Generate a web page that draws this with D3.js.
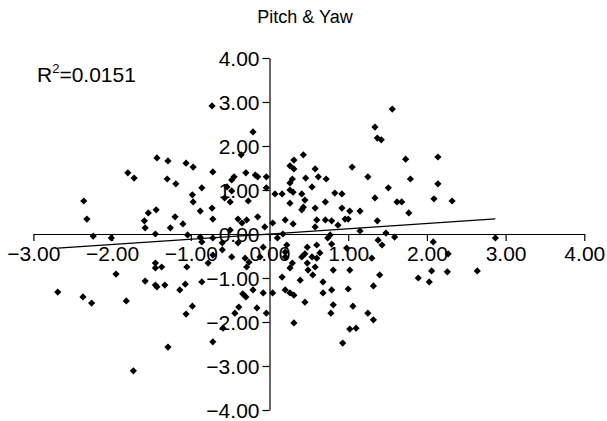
<!DOCTYPE html>
<html>
<head>
<meta charset="utf-8">
<script src="https://cdn.jsdelivr.net/npm/d3@7"></script>
<style>
  body { margin: 0; background: #fff; }
  text { font-family: Arial, "Liberation Sans", sans-serif; fill: #000; }
</style>
</head>
<body>
<svg></svg>
<script>
const WIDTH = 607
const HEIGHT = 421

// Pitch (x) and yaw (y) pairs
const pitch = [
  -1.43, -1.80, -1.72, -0.73, -0.21, -0.36, -1.29, -1.06, -0.97, -0.72,
  -0.30, -0.18, -0.15, -0.04, -0.45, -0.48, -1.30, -1.19, -0.86, -0.54,
  -0.48, -0.04, 0.07, -0.98, 1.56, 1.34, 1.37, 1.42, 0.43, 0.31,
  0.26, 0.31, 0.58, 1.05, 1.25, 1.51, 0.29, 0.26, 0.46, 0.62,
  0.72, 0.54, 0.26, 0.30, 0.41, 0.83, 0.92, 0.16, 1.73, 2.14,
  1.79, 2.14, -2.36, -2.32, -2.24, -2.01, -1.95, -1.54, -1.44, -1.59,
  -1.58, -1.45, -1.45, -1.45, -1.58, -1.45, -1.43, -0.97, -0.57, -0.50,
  -0.27, -0.88, -0.73, -1.20, -1.10, -0.72, -0.40, -0.35, -0.29, -0.15,
  -0.06, -1.26, -0.50, -1.04, -0.88, -0.86, -0.72, -0.60, -0.40, -0.72,
  -0.60, -0.48, -0.31, -0.26, -0.08, -0.12, -1.37, -1.05, -0.78, -0.29,
  0.10, 0.04, -1.33, -1.07, -0.86, 0.26, 0.45, 0.43, 0.41, 0.58,
  0.71, 0.92, 1.02, 1.15, 1.34, 1.62, 1.37, 0.20, 0.30, 0.60,
  0.71, 0.79, 0.96, 1.00, 0.58, 0.87, 1.15, 0.17, 0.77, 0.74,
  1.48, 1.59, 1.38, 1.43, 0.79, 0.98, 0.22, 0.20, 0.48, 0.60,
  0.45, 0.41, 0.54, 0.64, 0.60, 0.20, 0.29, 0.26, 0.48, 0.58,
  0.49, 0.81, 1.02, 1.30, 1.40, 0.16, 0.39, 0.55, 0.68, 1.32,
  1.00, 1.68, 2.09, 2.32, 1.77, 2.08, 2.87, 2.27, 2.06, 2.26,
  1.89, 2.03, 2.64, -2.69, -2.37, -2.26, -1.82, -1.73, -1.14, -1.06,
  -0.98, -1.29, -0.72, -0.59, -0.44, -0.39, -0.34, -0.30, -0.21, -0.16,
  -0.08, -0.04, 0.04, 0.20, 0.26, 0.31, 0.45, 0.68, 0.79, 0.81,
  0.78, 1.06, 0.31, 1.25, 1.32, 1.02, 1.10, 0.93
]
const yaw = [
  1.73, 1.39, 1.27, 2.91, 2.32, 1.80, 1.66, 1.61, 1.52, 1.41,
  1.39, 1.34, 1.30, 1.30, 1.30, 1.23, 1.25, 1.14, 1.05, 1.07,
  0.98, 1.05, 0.91, 0.89, 2.84, 2.43, 2.18, 2.14, 1.80, 1.68,
  1.55, 1.48, 1.48, 1.52, 1.30, 1.05, 1.25, 1.16, 1.27, 1.30,
  1.25, 1.07, 1.00, 0.95, 0.91, 0.93, 0.91, 0.91, 1.70, 1.75,
  1.25, 1.14, 0.75, 0.34, -0.05, -0.09, -0.91, 0.48, 0.55, 0.30,
  0.14, 0.00, -0.66, -0.77, -1.07, -1.16, -1.20, 0.73, 0.82, 0.73,
  0.75, 0.52, 0.59, 0.39, 0.23, 0.34, 0.34, 0.25, 0.32, 0.39,
  0.16, 0.14, 0.09, -0.02, -0.07, -0.18, -0.09, -0.20, -0.20, -0.48,
  -0.36, -0.52, -0.55, -0.64, -0.30, -0.52, -0.75, -0.75, -0.66, -0.75,
  -0.09, 0.25, -1.16, -1.14, -1.09, 0.70, 0.77, 0.61, 0.55, 0.59,
  0.73, 0.59, 0.52, 0.52, 0.82, 0.73, 0.30, 0.32, 0.23, 0.32,
  0.32, 0.30, 0.34, 0.34, 0.16, 0.20, 0.07, 0.00, -0.02, -0.09,
  0.02, -0.07, -0.14, -0.25, -0.23, -0.32, -0.25, -0.41, -0.30, -0.25,
  -0.45, -0.52, -0.52, -0.43, -0.55, -0.52, -0.66, -0.77, -0.66, -0.75,
  -0.82, -0.82, -0.82, -0.55, -0.93, -0.98, -1.05, -0.93, -1.09, -1.18,
  -1.25, 0.73, 0.80, 0.75, 0.48, -0.18, -0.09, -0.45, -0.84, -0.86,
  -1.00, -1.09, -0.84, -1.32, -1.43, -1.57, -1.52, -3.11, -1.27, -1.82,
  -1.64, -2.57, -2.45, -2.14, -1.80, -1.66, -1.36, -1.43, -1.27, -1.68,
  -1.34, -1.80, -1.34, -1.27, -1.34, -1.39, -1.55, -1.34, -1.27, -1.61,
  -1.80, -1.64, -2.02, -1.80, -1.95, -2.16, -2.14, -2.48
]

const xTicks = [-3, -2, -1, 0, 1, 2, 3, 4]
const yTicks = [-4, -3, -2, -1, 0, 1, 2, 3, 4]

// linear trend as shown on the chart
const trendSlope = 0.119
const trendIntercept = 0.0
const rSquared = '0.0151'

const points = pitch.map((p, i) => ({ x: p, y: yaw[i] }))

const svg = d3.select('svg')
  .attr('width', WIDTH)
  .attr('height', HEIGHT)

const xScale = d3.scaleLinear().domain([-3, 4]).range([33.4, 584.3])
const yScale = d3.scaleLinear().domain([-4, 4]).range([410, 58])

svg.append('text')
  .attr('x', 305)
  .attr('y', 23)
  .attr('text-anchor', 'middle')
  .style('font-size', '18px')
  .text('Pitch & Yaw')

const r2 = svg.append('text')
  .attr('x', 37)
  .attr('y', 82)
  .style('font-size', '21px')
r2.append('tspan').text('R')
r2.append('tspan').attr('dy', -9).style('font-size', '13px').text('2')
r2.append('tspan').attr('dy', 9).text('=' + rSquared)

const fmt = d3.format('.2f')

const axisX = d3.axisBottom(xScale)
  .tickValues(xTicks)
  .tickFormat(fmt)
  .tickSize(7)
  .tickSizeOuter(0)

const axisY = d3.axisLeft(yScale)
  .tickValues(yTicks)
  .tickFormat(fmt)
  .tickSize(7)
  .tickSizeOuter(0)

const axisXGroup = svg.append('g')
  .attr('transform', `translate(0, ${yScale(0)})`)
  .call(axisX)

const axisYGroup = svg.append('g')
  .attr('transform', `translate(${xScale(0)}, 0)`)
  .call(axisY)

for (const g of [axisXGroup, axisYGroup]) {
  g.selectAll('text')
    .style('font-size', '21px')
    .attr('font-family', null)
  g.attr('font-family', null).attr('font-size', null)
  g.selectAll('path, line').attr('stroke', '#000').attr('stroke-width', 1.2)
}
axisXGroup.selectAll('text').attr('dy', '0.9em').attr('y', 8)
axisYGroup.selectAll('text').attr('x', -10).attr('dy', '0.35em')

const xExtent = d3.extent(pitch)
svg.append('line')
  .attr('x1', xScale(xExtent[0]))
  .attr('y1', yScale(trendIntercept + trendSlope * xExtent[0]))
  .attr('x2', xScale(xExtent[1]))
  .attr('y2', yScale(trendIntercept + trendSlope * xExtent[1]))
  .attr('stroke', '#000')
  .attr('stroke-width', 1.2)

svg.selectAll('path.pt')
  .data(points)
  .enter()
  .append('path')
  .attr('class', 'pt')
  .attr('d', 'M0,-3.6L3.6,0L0,3.6L-3.6,0Z')
  .attr('transform', d => `translate(${xScale(d.x)}, ${yScale(d.y)})`)
  .attr('fill', '#000')
</script>
</body>
</html>
